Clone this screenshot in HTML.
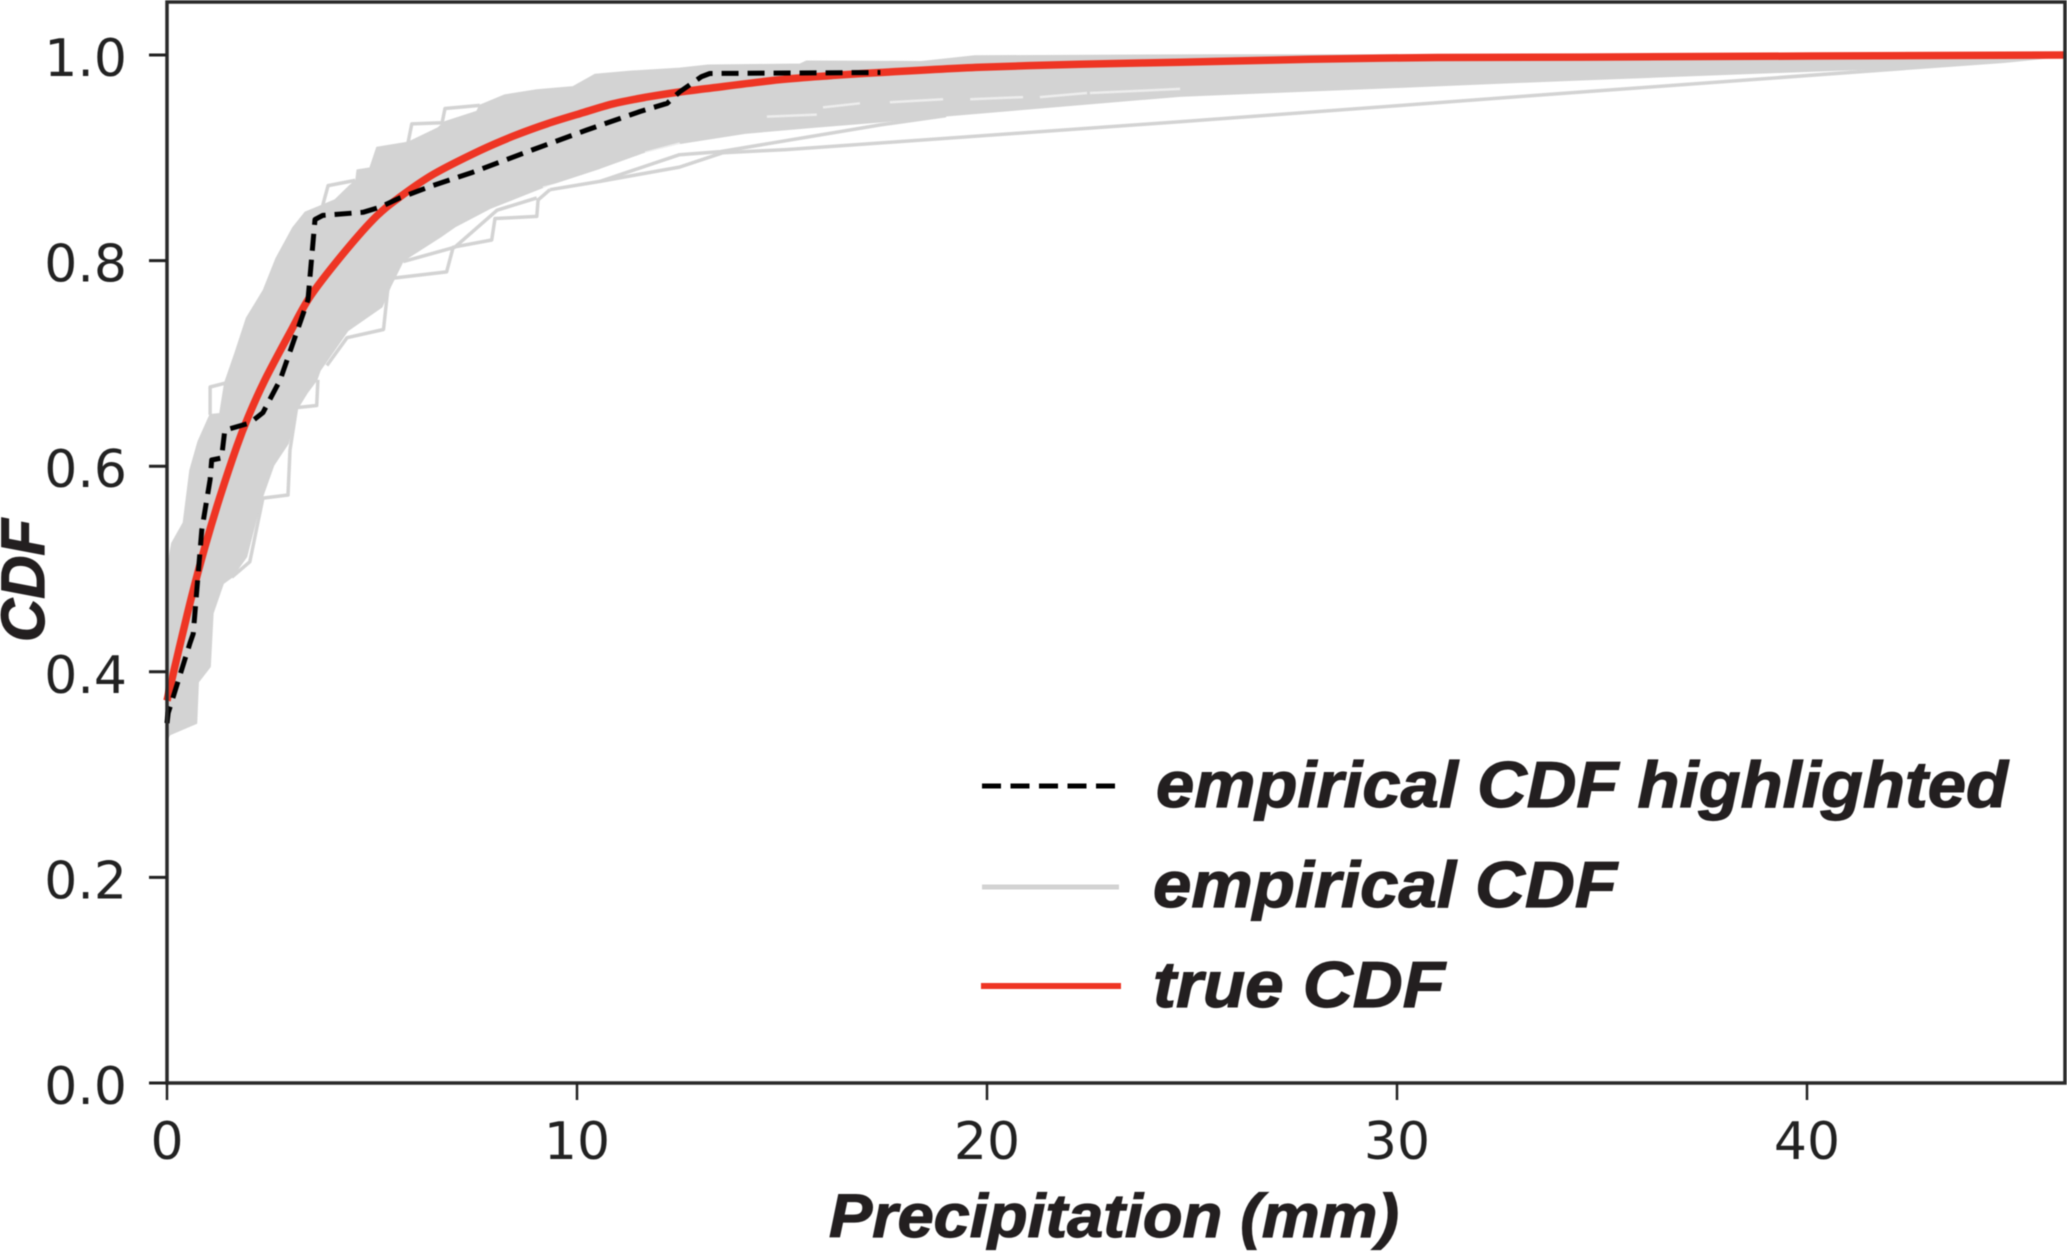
<!DOCTYPE html>
<html lang="en">
<head>
<meta charset="utf-8">
<title>Precipitation CDF</title>
<style>
html,body{margin:0;padding:0;background:#fff;}
svg{display:block;}
.tick-label{font-family:"DejaVu Sans",sans-serif;font-size:52px;fill:#222;}
.bold-label{font-family:"Liberation Sans",sans-serif;font-weight:700;font-style:italic;fill:#231f20;stroke:#231f20;stroke-width:1.2px;}
</style>
</head>
<body>
<svg id="chart" xmlns="http://www.w3.org/2000/svg" width="2067" height="1252" viewBox="0 0 2067 1252">
  <rect x="0" y="0" width="2067" height="1252" fill="#fff"/>
  <g id="plot" style="filter:blur(0.6px)"></g>
  <g id="axes" style="filter:blur(0.4px)"></g>
  <g style="filter:blur(0.4px)">
    <line id="legend-dash" x1="982" y1="786" x2="1115" y2="786" stroke="#000" stroke-width="5" stroke-dasharray="19 9.5"/>
    <text class="bold-label" x="1156" y="807" font-size="65" textLength="852" lengthAdjust="spacingAndGlyphs">empirical CDF highlighted</text>
    <line x1="982" y1="887" x2="1119" y2="887" stroke="#d3d3d3" stroke-width="5"/>
    <text class="bold-label" x="1153" y="907" font-size="65" textLength="464" lengthAdjust="spacingAndGlyphs">empirical CDF</text>
    <line x1="981" y1="986" x2="1121" y2="986" stroke="#ee3524" stroke-width="6"/>
    <text class="bold-label" x="1153" y="1007" font-size="65" textLength="292" lengthAdjust="spacingAndGlyphs">true CDF</text>
  </g>
  <text class="bold-label" x="829" y="1237" font-size="61" textLength="570" lengthAdjust="spacingAndGlyphs" style="filter:blur(0.4px)">Precipitation (mm)</text>
  <text class="bold-label" transform="translate(44,642) rotate(-90)" x="0" y="0" font-size="61" textLength="123" lengthAdjust="spacingAndGlyphs" style="filter:blur(0.4px)">CDF</text>
</svg>
<script>
// Axis ticks
const xTicks = [0, 10, 20, 30, 40];
const yTicks = [0, 0.2, 0.4, 0.6, 0.8, 1.0];
const yTickLabels = ['0.0', '0.2', '0.4', '0.6', '0.8', '1.0'];

// True CDF
const trueX = [0, 0.28, 0.6, 0.93, 1.29, 1.7, 1.98, 2.39, 3.0, 3.49, 4.22, 5.03, 5.65, 6.5, 7.63, 8.44, 9.26, 10.07, 10.88, 11.7, 12.5, 13.3, 14.95, 16.2, 17.4, 19.83, 22.27, 24.7, 29.6, 34.5, 46.3];
const trueY = [0.372, 0.42, 0.473, 0.522, 0.57, 0.619, 0.648, 0.684, 0.73, 0.765, 0.803, 0.84, 0.861, 0.884, 0.907, 0.921, 0.933, 0.943, 0.9525, 0.959, 0.964, 0.968, 0.976, 0.98, 0.983, 0.988, 0.991, 0.993, 0.997, 0.998, 1.0];

// Highlighted empirical CDF
const highlightX = [0, 0.03, 0.56, 0.64, 0.85, 1.05, 1.09, 1.33, 1.41, 2.02, 2.34, 2.76, 3.44, 3.61, 3.8, 4.78, 5.2, 5.68, 6.41, 7.46, 8.93, 10.24, 11.54, 12.2, 12.5, 13.04, 13.24, 17.4];
const highlightY = [0.35, 0.36, 0.428, 0.437, 0.538, 0.587, 0.606, 0.608, 0.635, 0.642, 0.652, 0.684, 0.762, 0.84, 0.844, 0.847, 0.852, 0.861, 0.872, 0.886, 0.908, 0.927, 0.945, 0.953, 0.964, 0.979, 0.982, 0.983];

// Empirical CDF spread: upper edge of the ensemble
const upperX = [0, 0.12, 0.4, 0.56, 0.76, 1.05, 1.29, 1.41, 1.66, 1.94, 2.35, 2.66, 3.07, 3.37, 3.8, 4.1, 4.46, 4.61, 4.64, 4.95, 5.12, 5.88, 6.61, 6.78, 7.56, 7.63, 8.24, 9.02, 9.9, 10.44, 11.3, 12.5, 13.2, 15.44, 15.6, 18.4, 19.7, 25.4, 46.3];
const upperY = [0.5, 0.525, 0.545, 0.596, 0.624, 0.65, 0.651, 0.681, 0.71, 0.744, 0.771, 0.802, 0.832, 0.847, 0.854, 0.859, 0.873, 0.878, 0.888, 0.89, 0.91, 0.915, 0.929, 0.935, 0.945, 0.951, 0.961, 0.966, 0.969, 0.981, 0.984, 0.987, 0.99, 0.991, 0.994, 0.9935, 0.999, 1.0, 1.0];

// Empirical CDF spread: lower edge of the ensemble
const lowerX = [0, 0.07, 0.72, 0.76, 1.05, 1.12, 1.37, 1.58, 1.94, 2.27, 2.6, 2.95, 3.16, 3.41, 3.65, 3.73, 4.41, 5.24, 5.44, 5.76, 6.66, 7.02, 7.88, 9.02, 9.34, 10.56, 11.6, 12.5, 14.1, 15.8, 17.4, 19, 24.7, 34.5, 42.5, 46.3];
const lowerY = [0.335, 0.339, 0.35, 0.39, 0.405, 0.457, 0.486, 0.492, 0.512, 0.564, 0.601, 0.622, 0.655, 0.671, 0.684, 0.693, 0.732, 0.755, 0.774, 0.8, 0.823, 0.833, 0.851, 0.869, 0.874, 0.89, 0.905, 0.914, 0.924, 0.93, 0.935, 0.941, 0.96, 0.976, 0.988, 1.0];

// Individual empirical CDF traces that stand out from the ensemble
const traceAX = [1.58, 2.02, 2.34, 2.95, 3.0, 3.16];
const traceAY = [0.492, 0.507, 0.569, 0.572, 0.616, 0.657];
const traceBX = [3.16, 3.65, 3.68];
const traceBY = [0.657, 0.659, 0.684];
const traceCX = [3.9, 4.39, 5.28, 5.39, 5.52, 6.82, 6.98, 7.92, 8.0, 9.02, 9.05, 9.34];
const traceCY = [0.698, 0.725, 0.733, 0.774, 0.783, 0.789, 0.813, 0.82, 0.841, 0.843, 0.859, 0.869];
const traceDX = [5.76, 7.02, 8.05, 9.02];
const traceDY = [0.799, 0.813, 0.849, 0.861];
const traceEX = [9.34, 10.56, 12.5, 13.56];
const traceEY = [0.869, 0.877, 0.891, 0.905];
const traceFX = [13.56, 15.1, 24.7, 34.5, 44.8, 46.3];
const traceFY = [0.905, 0.908, 0.935, 0.964, 0.994, 1.0];
const traceGX = [1.05, 1.05, 1.44];
const traceGY = [0.65, 0.677, 0.681];
const traceHX = [3.8, 3.93, 4.59];
const traceHY = [0.854, 0.873, 0.878];
const traceIX = [5.88, 5.97, 6.71, 6.78, 7.63];
const traceIY = [0.915, 0.933, 0.934, 0.948, 0.951];
const traceJX = [10.56, 12.5, 13.5, 17.4, 19];
const traceJY = [0.877, 0.903, 0.906, 0.932, 0.941];
const traces = [
  [traceAX, traceAY], [traceBX, traceBY], [traceCX, traceCY], [traceDX, traceDY], [traceEX, traceEY],
  [traceFX, traceFY], [traceGX, traceGY], [traceHX, traceHY], [traceIX, traceIY], [traceJX, traceJY]
];

// Small white gaps visible between the empirical traces
const gapStartX = [9.17, 11.66, 14.63, 16, 17.63, 19.59, 21.29, 22.51];
const gapStartY = [0.871, 0.905, 0.94, 0.949, 0.954, 0.957, 0.959, 0.963];
const gapEndX = [11.29, 12.51, 15.85, 16.9, 18.93, 20.88, 22.44, 24.71];
const gapEndY = [0.89, 0.914, 0.942, 0.953, 0.957, 0.959, 0.963, 0.967];

const NS = 'http://www.w3.org/2000/svg';
const X_MIN = 0, X_MAX = 46.3, Y_MIN = 0, Y_MAX = 1.05;
const PLOT_LEFT = 167, PLOT_RIGHT = 2065.3, PLOT_BOTTOM = 1083, PLOT_TOP = 3.6;
const plot = document.getElementById('plot');
const axes = document.getElementById('axes');

function xScale(v) { return PLOT_LEFT + (v - X_MIN) / (X_MAX - X_MIN) * (PLOT_RIGHT - PLOT_LEFT); }
function yScale(v) { return PLOT_BOTTOM - (v - Y_MIN) / (Y_MAX - Y_MIN) * (PLOT_BOTTOM - PLOT_TOP); }
function pathFrom(xs, ys) {
  return xs.map(function (x, i) { return (i ? 'L' : 'M') + xScale(x).toFixed(1) + ' ' + yScale(ys[i]).toFixed(1); }).join(' ');
}
function smoothPathFrom(xs, ys) {
  const px = xs.map(xScale), py = ys.map(yScale);
  let d = 'M' + px[0].toFixed(1) + ' ' + py[0].toFixed(1);
  for (let i = 0; i < px.length - 1; i++) {
    const a = Math.max(i - 1, 0), b = Math.min(i + 2, px.length - 1);
    const c1x = px[i] + (px[i + 1] - px[a]) / 6, c1y = py[i] + (py[i + 1] - py[a]) / 6;
    const c2x = px[i + 1] - (px[b] - px[i]) / 6, c2y = py[i + 1] - (py[b] - py[i]) / 6;
    d += ' C' + c1x.toFixed(1) + ' ' + c1y.toFixed(1) + ' ' + c2x.toFixed(1) + ' ' + c2y.toFixed(1) + ' ' + px[i + 1].toFixed(1) + ' ' + py[i + 1].toFixed(1);
  }
  return d;
}
function make(tag, attrs, parent) {
  const el = document.createElementNS(NS, tag);
  Object.keys(attrs).forEach(function (k) { el.setAttribute(k, attrs[k]); });
  parent.appendChild(el);
  return el;
}

// Ensemble band between the upper and lower edges
const band = make('path', {
  d: pathFrom(upperX, upperY) + ' ' + pathFrom(lowerX.slice().reverse(), lowerY.slice().reverse()).replace('M', 'L') + ' Z',
  fill: '#d3d3d3', stroke: '#d3d3d3', 'stroke-width': 1.5, 'stroke-linejoin': 'round'
}, plot);



gapStartX.forEach(function (g, i) {
  const gap = make('line', { x1: xScale(g), y1: yScale(gapStartY[i]), x2: xScale(gapEndX[i]), y2: yScale(gapEndY[i]), stroke: '#fff', 'stroke-width': 2.5, 'stroke-opacity': 0.6 }, plot);
  
  
});

traces.forEach(function (t) {
  const p = make('path', { d: pathFrom(t[0], t[1]), fill: 'none', stroke: '#d3d3d3', 'stroke-width': 3.5, 'stroke-linejoin': 'round' }, plot);
  
  
});

const redLine = make('path', { d: smoothPathFrom(trueX, trueY), fill: 'none', stroke: '#ee3524', 'stroke-width': 7.5, 'stroke-linejoin': 'round' }, plot);



const dashed = make('path', { d: pathFrom(highlightX, highlightY), fill: 'none', stroke: '#000', 'stroke-width': 5, 'stroke-dasharray': '17 9', 'stroke-linejoin': 'round' }, plot);



// Spines
const frame = make('rect', { x: 167, y: 2, width: 1898, height: 1081, fill: 'none', stroke: '#2a2a2a', 'stroke-width': 3.5 }, axes);



xTicks.forEach(function (t) {
  const px = xScale(t);
  const tick = make('line', { x1: px, y1: 1083, x2: px, y2: 1100, stroke: '#222', 'stroke-width': 2.5 }, axes);
  
  
  const label = make('text', { x: px, y: 1159, 'text-anchor': 'middle', class: 'tick-label' }, axes);
  
  
  label.textContent = String(t);
});

yTicks.forEach(function (t, i) {
  const py = yScale(t);
  const tick = make('line', { x1: 149, y1: py, x2: 167, y2: py, stroke: '#222', 'stroke-width': 3 }, axes);
  
  
  const label = make('text', { x: 127, y: py + 21, 'text-anchor': 'end', class: 'tick-label' }, axes);
  
  
  label.textContent = yTickLabels[i];
});
</script>
</body>
</html>
